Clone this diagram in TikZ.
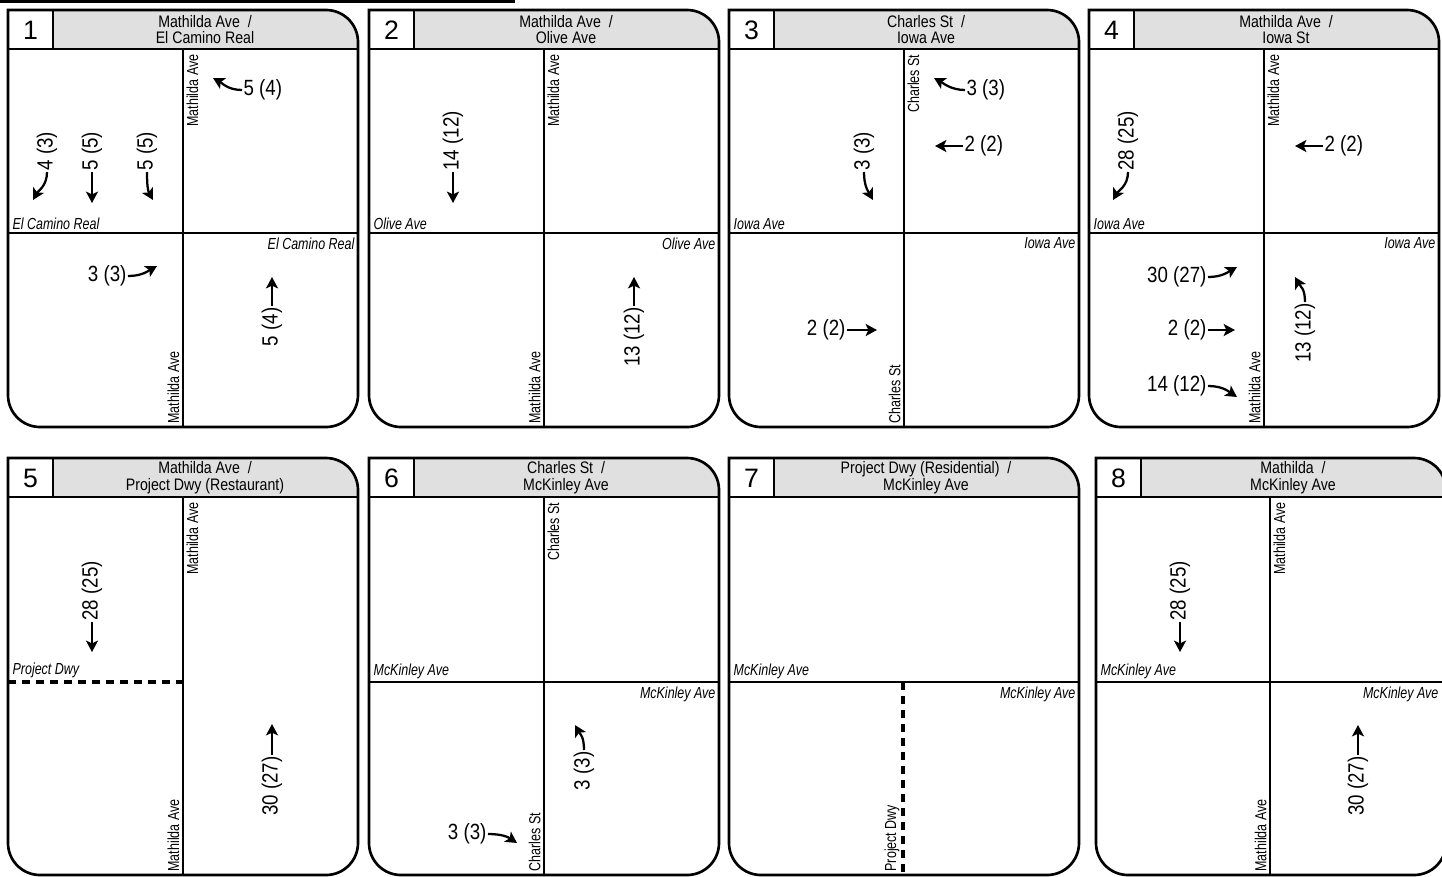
\documentclass[tikz,border=0pt]{standalone}
\usepackage{fontspec}
\setmainfont{Liberation Sans}[FakeStretch=0.85]
\newfontfamily\numfont{Liberation Sans}
\newfontfamily\streetfont{Liberation Sans}[FakeStretch=0.78]
\usepackage{tikz}
\usetikzlibrary{
    positioning,
    arrows.meta
}
\definecolor{hdrgray}{RGB}{224,224,224}
\tikzset{
    > = {Stealth[length=8.5pt, width=9pt, inset=2pt]},
    frameline/.style = {line width=2pt},
    roadline/.style = {line width=2.2pt},
    dwyline/.style = {line width=2.4pt, dash pattern=on 6pt off 4.5pt},
    flow/.style = {->, line width=1.7pt},
    vol/.style = {font=\fontsize{16.5}{16.5}\selectfont, inner sep=1pt},
    street/.style = {font=\streetfont\fontsize{12}{12}\selectfont, inner sep=1pt},
    crossst/.style = {font=\streetfont\itshape\fontsize{12}{12}\selectfont, inner sep=1pt},
    numlbl/.style = {font=\numfont\fontsize{20}{20}\selectfont},
    titlelbl/.style = {font=\fontsize{12.5}{12.5}\selectfont, align=center, inner sep=0pt},
}
\newcommand{\panelframe}[2]{%
  \begin{scope}
    \clip (45,0) rectangle (350,39);
    \fill[hdrgray] (0,0) [rounded corners=24pt] -- (350,0) -- (350,100) -- (0,100) -- cycle;
  \end{scope}
  \draw[frameline] (0,100) -- (0,0) -- (200,0) [rounded corners=24pt] -- (350,0) -- (350,417) -- (0,417) -- (0,100);
  \draw[frameline] (0,39) -- (350,39);
  \draw[frameline] (45,0) -- (45,39);
  \node[numlbl] (num#1) at (22.5,20) {#1};
  \node[titlelbl] (title#1) at (197,19.5) {#2};
}

\begin{document}
\begin{tikzpicture}[x=0.75pt, y=-0.75pt]
\clip (0,0) rectangle (1442,876);
\draw[line width=1.8pt] (0,1.5) -- (515,1.5);

% 1
\begin{scope}[shift={(8,10)}]
\panelframe{1}{Mathilda Ave~ /\\El Camino Real}
\draw[roadline] (175,39) -- (175,417);
\draw[roadline] (0,223) -- (350,223);
\node[street, rotate=90, anchor=north east] (p1sn) at (177,43) {Mathilda Ave};
\node[street, rotate=90, anchor=south west] (p1ss) at (173,415) {Mathilda Ave};
\node[crossst, anchor=south west] (p1sw) at (3,221) {El Camino Real};
\node[crossst, anchor=north east] (p1se) at (348,226) {El Camino Real};
\node[vol, anchor=west] (p1wbr) at (234,80) {5 (4)};
\coordinate (p1wbrend) at (205,68);
\draw[flow] (p1wbr.west) .. controls +(-14,0) and +(9,5) .. (p1wbrend);
\node[vol, rotate=90, anchor=west] (p1sbr) at (39,162) {4 (3)};
\coordinate (p1sbrend) at (25,190);
\draw[flow] (p1sbr.west) .. controls +(0,14) and +(5,-9) .. (p1sbrend);
\node[vol, rotate=90, anchor=west] (p1sbt) at (84,162) {5 (5)};
\coordinate (p1sbtend) at (84,193);
\draw[flow] (p1sbt.west) -- (p1sbtend);
\node[vol, rotate=90, anchor=west] (p1sbl) at (139,162) {5 (5)};
\coordinate (p1sblend) at (145,190);
\draw[flow] (p1sbl.west) .. controls +(0,14) and +(-5,-9) .. (p1sblend);
\node[vol, anchor=east] (p1ebl) at (120,266) {3 (3)};
\coordinate (p1eblend) at (149,256);
\draw[flow] (p1ebl.east) .. controls +(14,0) and +(-9,5) .. (p1eblend);
\node[vol, rotate=90, anchor=east] (p1nbt) at (264,296) {5 (4)};
\coordinate (p1nbtend) at (264,267);
\draw[flow] (p1nbt.east) -- (p1nbtend);
\end{scope}

% 2
\begin{scope}[shift={(369,10)}]
\panelframe{2}{Mathilda Ave~ /\\Olive Ave}
\draw[roadline] (175,39) -- (175,417);
\draw[roadline] (0,223) -- (350,223);
\node[street, rotate=90, anchor=north east] (p2sn) at (177,43) {Mathilda Ave};
\node[street, rotate=90, anchor=south west] (p2ss) at (173,415) {Mathilda Ave};
\node[crossst, anchor=south west] (p2sw) at (3,221) {Olive Ave};
\node[crossst, anchor=north east] (p2se) at (348,226) {Olive Ave};
\node[vol, rotate=90, anchor=west] (p2sbt) at (84,162) {14 (12)};
\coordinate (p2sbtend) at (84,193);
\draw[flow] (p2sbt.west) -- (p2sbtend);
\node[vol, rotate=90, anchor=east] (p2nbt) at (265,296) {13 (12)};
\coordinate (p2nbtend) at (265,267);
\draw[flow] (p2nbt.east) -- (p2nbtend);
\end{scope}

% 3
\begin{scope}[shift={(729,10)}]
\panelframe{3}{Charles St~ /\\Iowa Ave}
\draw[roadline] (175,39) -- (175,417);
\draw[roadline] (0,223) -- (350,223);
\node[street, rotate=90, anchor=north east] (p3sn) at (177,43) {Charles St};
\node[street, rotate=90, anchor=south west] (p3ss) at (173,415) {Charles St};
\node[crossst, anchor=south west] (p3sw) at (3,221) {Iowa Ave};
\node[crossst, anchor=north east] (p3se) at (348,226) {Iowa Ave};
\node[vol, anchor=west] (p3wbr) at (236,80) {3 (3)};
\coordinate (p3wbrend) at (205,68);
\draw[flow] (p3wbr.west) .. controls +(-14,0) and +(9,5) .. (p3wbrend);
\node[vol, anchor=west] (p3wbt) at (234,136) {2 (2)};
\coordinate (p3wbtend) at (206,136);
\draw[flow] (p3wbt.west) -- (p3wbtend);
\node[vol, rotate=90, anchor=west] (p3sbl) at (135,162) {3 (3)};
\coordinate (p3sblend) at (144,190);
\draw[flow] (p3sbl.west) .. controls +(0,14) and +(-5,-9) .. (p3sblend);
\node[vol, anchor=east] (p3ebt) at (118,320) {2 (2)};
\coordinate (p3ebtend) at (148,320);
\draw[flow] (p3ebt.east) -- (p3ebtend);
\end{scope}

% 4
\begin{scope}[shift={(1089,10)}]
\panelframe{4}{Mathilda Ave~ /\\Iowa St}
\draw[roadline] (175,39) -- (175,417);
\draw[roadline] (0,223) -- (350,223);
\node[street, rotate=90, anchor=north east] (p4sn) at (177,43) {Mathilda Ave};
\node[street, rotate=90, anchor=south west] (p4ss) at (173,415) {Mathilda Ave};
\node[crossst, anchor=south west] (p4sw) at (3,221) {Iowa Ave};
\node[crossst, anchor=north east] (p4se) at (348,226) {Iowa Ave};
\node[vol, rotate=90, anchor=west] (p4sbr) at (39,162) {28 (25)};
\coordinate (p4sbrend) at (24,190);
\draw[flow] (p4sbr.west) .. controls +(0,14) and +(5,-9) .. (p4sbrend);
\node[vol, anchor=west] (p4wbt) at (234,136) {2 (2)};
\coordinate (p4wbtend) at (206,136);
\draw[flow] (p4wbt.west) -- (p4wbtend);
\node[vol, anchor=east] (p4ebl) at (119,267) {30 (27)};
\coordinate (p4eblend) at (148,257);
\draw[flow] (p4ebl.east) .. controls +(14,0) and +(-9,5) .. (p4eblend);
\node[vol, anchor=east] (p4ebt) at (119,320) {2 (2)};
\coordinate (p4ebtend) at (146,320);
\draw[flow] (p4ebt.east) -- (p4ebtend);
\node[vol, anchor=east] (p4ebr) at (119,376) {14 (12)};
\coordinate (p4ebrend) at (148,387);
\draw[flow] (p4ebr.east) .. controls +(14,0) and +(-9,-6) .. (p4ebrend);
\node[vol, rotate=90, anchor=east] (p4nbl) at (216,292) {13 (12)};
\coordinate (p4nblend) at (206,267);
\draw[flow] (p4nbl.east) .. controls +(0,-14) and +(5,9) .. (p4nblend);
\end{scope}

% 5
\begin{scope}[shift={(8,458)}]
\panelframe{5}{Mathilda Ave~ /\\Project Dwy (Restaurant)}
\draw[roadline] (175,39) -- (175,417);
\draw[dwyline] (0,224) -- (175,224);
\node[street, rotate=90, anchor=north east] (p5sn) at (177,43) {Mathilda Ave};
\node[street, rotate=90, anchor=south west] (p5ss) at (173,415) {Mathilda Ave};
\node[crossst, anchor=south west] (p5sw) at (3,221) {Project Dwy};
\node[vol, rotate=90, anchor=west] (p5sbt) at (84,164) {28 (25)};
\coordinate (p5sbtend) at (84,194);
\draw[flow] (p5sbt.west) -- (p5sbtend);
\node[vol, rotate=90, anchor=east] (p5nbt) at (264,297) {30 (27)};
\coordinate (p5nbtend) at (264,266);
\draw[flow] (p5nbt.east) -- (p5nbtend);
\end{scope}

% 6
\begin{scope}[shift={(369,458)}]
\panelframe{6}{Charles St~ /\\McKinley Ave}
\draw[roadline] (175,39) -- (175,417);
\draw[roadline] (0,224) -- (350,224);
\node[street, rotate=90, anchor=north east] (p6sn) at (177,43) {Charles St};
\node[street, rotate=90, anchor=south west] (p6ss) at (173,415) {Charles St};
\node[crossst, anchor=south west] (p6sw) at (3,222) {McKinley Ave};
\node[crossst, anchor=north east] (p6se) at (348,227) {McKinley Ave};
\node[vol, rotate=90, anchor=east] (p6nbl) at (215,292) {3 (3)};
\coordinate (p6nblend) at (206,267);
\draw[flow] (p6nbl.east) .. controls +(0,-14) and +(5,9) .. (p6nblend);
\node[vol, anchor=east] (p6ebr) at (119,376) {3 (3)};
\coordinate (p6ebrend) at (148,385);
\draw[flow] (p6ebr.east) .. controls +(14,0) and +(-9,-6) .. (p6ebrend);
\end{scope}

% 7
\begin{scope}[shift={(729,458)}]
\panelframe{7}{Project Dwy (Residential)~ /\\McKinley Ave}
\draw[roadline] (0,224) -- (350,224);
\draw[dwyline] (174,224) -- (174,417);
\node[street, rotate=90, anchor=south west] (p7ss) at (172,415) {Project Dwy};
\node[crossst, anchor=south west] (p7sw) at (3,222) {McKinley Ave};
\node[crossst, anchor=north east] (p7se) at (348,227) {McKinley Ave};
\end{scope}

% 8
\begin{scope}[shift={(1096,458)}]
\panelframe{8}{Mathilda~ /\\McKinley Ave}
\draw[roadline] (174,39) -- (174,417);
\draw[roadline] (0,224) -- (350,224);
\node[street, rotate=90, anchor=north east] (p8sn) at (176,43) {Mathilda Ave};
\node[street, rotate=90, anchor=south west] (p8ss) at (172,415) {Mathilda Ave};
\node[crossst, anchor=south west] (p8sw) at (3,222) {McKinley Ave};
\node[crossst, anchor=north east] (p8se) at (344,227) {McKinley Ave};
\node[vol, rotate=90, anchor=west] (p8sbt) at (84,164) {28 (25)};
\coordinate (p8sbtend) at (84,194);
\draw[flow] (p8sbt.west) -- (p8sbtend);
\node[vol, rotate=90, anchor=east] (p8nbt) at (262,297) {30 (27)};
\coordinate (p8nbtend) at (262,267);
\draw[flow] (p8nbt.east) -- (p8nbtend);
\end{scope}
\end{tikzpicture}
\end{document}
